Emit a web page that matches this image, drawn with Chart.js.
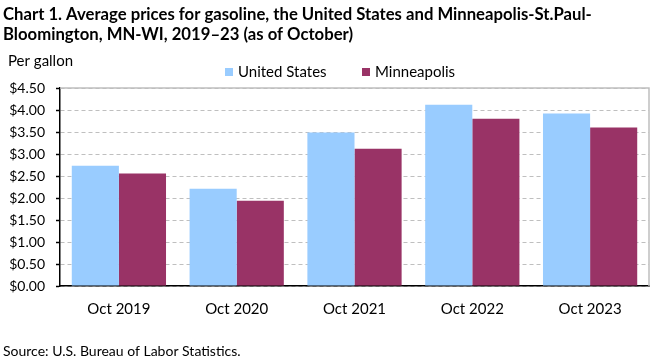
<!DOCTYPE html>
<html><head><meta charset="utf-8">
<script src="https://cdn.jsdelivr.net/npm/chart.js@4"></script>
<style>html,body{margin:0;padding:0;background:#fff}#wrap{width:661px;height:361px;position:relative}</style>
</head><body><div id="wrap"><canvas id="c" width="661" height="361"></canvas></div>
<script>
const categories = ["Oct 2019","Oct 2020","Oct 2021","Oct 2022","Oct 2023"];
const unitedStates = [2.735, 2.21, 3.49, 4.12, 3.92];
const minneapolis = [2.555, 1.94, 3.12, 3.80, 3.60];
const titleLines = ["Chart 1. Average prices for gasoline, the United States and Minneapolis-St.Paul-","Bloomington, MN-WI, 2019\u201323 (as of October)"];
const yAxisTitle = "Per gallon";
const sourceText = "Source: U.S. Bureau of Labor Statistics.";
const FONT = "Lato, 'Open Sans', sans-serif";

const extras = {
  id:'extras',
  afterDraw(chart){
    const ctx = chart.ctx, a = chart.chartArea;
    ctx.save();
    ctx.strokeStyle = '#bfbfbf'; ctx.lineWidth = 1.5;
    ctx.beginPath();
    ctx.moveTo(a.left, a.top); ctx.lineTo(a.right, a.top); ctx.lineTo(a.right, a.bottom);
    ctx.stroke();
    ctx.fillStyle = '#000';
    ctx.textBaseline = 'alphabetic'; ctx.textAlign='left';
    ctx.font = "bold 16.7px " + FONT;
    ctx.fillText(titleLines[0], 3, 20);
    ctx.fillText(titleLines[1], 3, 40);
    ctx.font = "15px " + FONT;
    ctx.fillText(yAxisTitle, 8, 66);
    const legendX = [225, 362];
    chart.data.datasets.forEach((ds, i) => {
      ctx.fillStyle = ds.backgroundColor;
      ctx.fillRect(legendX[i], 68, 8, 8);
      ctx.fillStyle = '#000';
      ctx.textBaseline = 'middle';
      ctx.fillText(ds.label, legendX[i] + 13, 72);
    });
    ctx.textBaseline = 'alphabetic';
    ctx.font = "14px " + FONT;
    ctx.fillText(sourceText, 3, 356);
    ctx.restore();
  }
};

new Chart(document.getElementById('c'), {
  type:'bar',
  data:{labels:categories, datasets:[
    {label:'United States', data:unitedStates, backgroundColor:'#99ccff', categoryPercentage:0.8, barPercentage:1.0},
    {label:'Minneapolis', data:minneapolis, backgroundColor:'#993366', categoryPercentage:0.8, barPercentage:1.0}
  ]},
  options:{
    responsive:false, animation:false,
    layout:{padding:{left:4,right:12,top:88,bottom:29}},
    plugins:{ title:{display:false}, legend:{display:false}, tooltip:{enabled:false} },
    scales:{
      x:{grid:{display:false, drawTicks:false}, border:{color:'#000', width:1.5},
         ticks:{color:'#000', font:{family:FONT,size:15}, padding:14, autoSkip:false, maxRotation:0}},
      y:{min:0,max:4.5,
         afterFit(s){ s.width = 56; },
         grid:{color:'#bfbfbf', tickColor:'#000', tickLength:4, tickBorderDash:[], tickWidth:1.5},
         border:{color:'#000', width:1.5, dash:[4,3]},
         ticks:{stepSize:0.5, autoSkip:false, color:'#000', font:{family:FONT,size:14}, padding:11, callback:v=>'$'+Number(v).toFixed(2)}}
    }
  },
  plugins:[extras]
});
</script></body></html>
